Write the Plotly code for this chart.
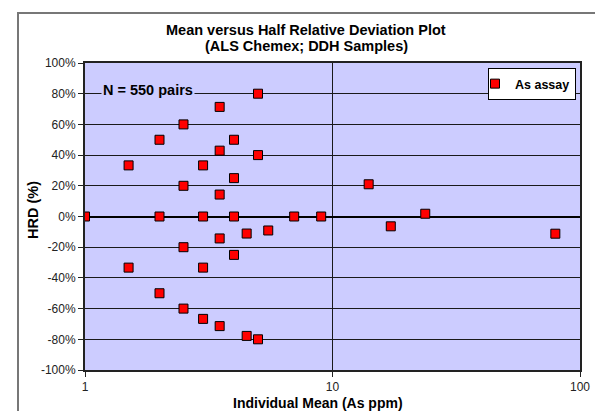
import plotly.graph_objects as go

# Data
individual_mean = [1, 1.5, 1.5, 2, 2, 2, 2.5, 2.5, 2.5, 2.5, 3, 3, 3, 3,
                   3.5, 3.5, 3.5, 3.5, 3.5, 4, 4, 4, 4, 4.5, 4.5, 5, 5, 5,
                   5.5, 7, 9, 14, 17.2, 23.7, 79.5]
hrd = [0.0, 0.333, -0.333, 0.50, 0.0, -0.50, 0.60, 0.20, -0.20, -0.60,
       0.333, 0.0, -0.333, -0.667, 0.714, 0.429, 0.143, -0.143, -0.714,
       0.50, 0.25, 0.0, -0.25, -0.111, -0.778, 0.80, 0.40, -0.80,
       -0.091, 0.0, 0.0, 0.21, -0.064, 0.018, -0.112]

series_name = "As assay"
y_tick_vals = [-1.0, -0.8, -0.6, -0.4, -0.2, 0.0, 0.2, 0.4, 0.6, 0.8, 1.0]
y_tick_text = ["-100%", "-80%", "-60%", "-40%", "-20%", "0%", "20%", "40%", "60%", "80%", "100%"]
x_tick_vals = [1, 10, 100]
x_tick_text = ["1", "10", "100"]

FONT = "Liberation Sans, Arial, sans-serif"
W, H = 603, 411
L, R, T, B = 77, 31, 55, 49
pw, ph = W - L - R, H - T - B


def px_x(p):
    return (p - L) / pw


def px_y(p):
    return (H - B - p) / ph


fig = go.Figure()
fig.add_trace(go.Scatter(
    x=individual_mean, y=hrd, mode="markers", name="<b>" + series_name + "</b>",
    marker=dict(symbol="square", size=9, color="#FF0000",
                line=dict(color="#000000", width=1)),
))

axis_common = dict(showline=True, linecolor="#222222", linewidth=2, mirror=True,
                   ticks="outside", ticklen=5, tickcolor="#222222",
                   tickfont=dict(family=FONT, size=12, color="#222222"),
                   showgrid=True, gridcolor="#1a1a1a", gridwidth=1)

fig.update_xaxes(type="log", range=[0, 2], tickvals=x_tick_vals, ticktext=x_tick_text,
                 **axis_common)
fig.update_yaxes(range=[-1, 1], tickvals=y_tick_vals, ticktext=y_tick_text,
                 zeroline=True, zerolinecolor="#000000", zerolinewidth=1.5,
                 **axis_common)

annotations = [
    dict(text="<b>Mean versus Half Relative Deviation Plot</b>", x=px_x(298), y=px_y(22),
         xref="paper", yref="paper", showarrow=False, xanchor="center", yanchor="middle",
         font=dict(family=FONT, size=14.5, color="#000000")),
    dict(text="<b>(ALS Chemex; DDH Samples)</b>", x=px_x(298), y=px_y(38.5),
         xref="paper", yref="paper", showarrow=False, xanchor="center", yanchor="middle",
         font=dict(family=FONT, size=14.5, color="#000000")),
    dict(text="<b>Individual Mean (As ppm)</b>", x=px_x(310), y=px_y(395),
         xref="paper", yref="paper", showarrow=False, xanchor="center", yanchor="middle",
         font=dict(family=FONT, size=14, color="#000000")),
    dict(text="<b>HRD (%)</b>", x=px_x(25), y=px_y(202), textangle=-90,
         xref="paper", yref="paper", showarrow=False, xanchor="center", yanchor="middle",
         font=dict(family=FONT, size=14.5, color="#000000")),
    dict(text="<b>N = 550 pairs</b>", x=px_x(140), y=px_y(82),
         xref="paper", yref="paper", showarrow=False, xanchor="center", yanchor="middle",
         bgcolor="#CCCCFF", borderpad=1,
         font=dict(family=FONT, size=14.5, color="#000000")),
]

shapes = [
    dict(type="rect", xref="paper", yref="paper",
         x0=px_x(10), x1=px_x(598), y0=px_y(420), y1=px_y(5),
         line=dict(color="#777777", width=2), fillcolor="rgba(0,0,0,0)", layer="below"),
]

fig.update_layout(
    width=W, height=H,
    margin=dict(l=L, r=R, t=T, b=B, pad=0),
    paper_bgcolor="#FFFFFF", plot_bgcolor="#CCCCFF",
    font=dict(family=FONT, color="#000000"),
    showlegend=True,
    legend=dict(x=px_x(568), y=px_y(60), xanchor="right", yanchor="top",
                bgcolor="#FFFFFF", bordercolor="#000000", borderwidth=1,
                font=dict(family=FONT, size=12.5, color="#000000"),
                itemwidth=30, tracegroupgap=0, indentation=-14),
    annotations=annotations,
    shapes=shapes,
)

fig.write_html("out.html")
